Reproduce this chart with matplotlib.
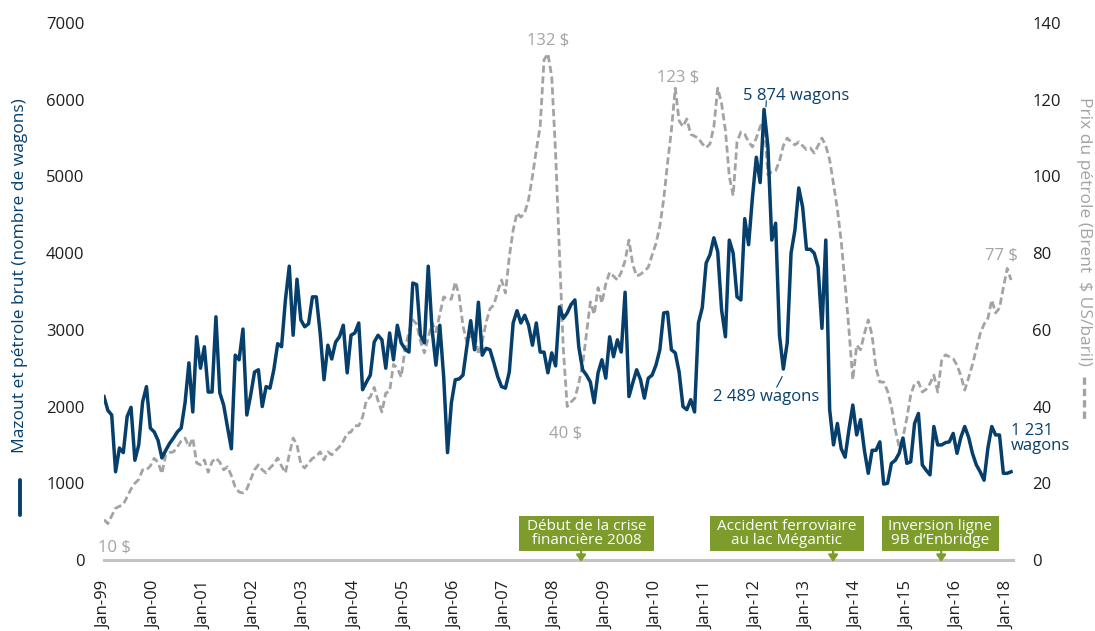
import matplotlib.pyplot as plt
from matplotlib.lines import Line2D
from matplotlib.patches import Rectangle

plt.rcParams['font.family'] = ['Open Sans', 'DejaVu Sans']

# 4-week periods, one tick label every 13 periods
tick_labels = ['Jan-99', 'Jan-00', 'Jan-01', 'Jan-02', 'Jan-03', 'Jan-04', 'Jan-05',
               'Jan-06', 'Jan-07', 'Jan-08', 'Jan-09', 'Jan-10', 'Jan-11', 'Jan-12',
               'Jan-13', 'Jan-14', 'Jan-15', 'Jan-16', 'Jan-18']

# rail cars of fuel oil and crude (number of cars)
wagons = [
    2130, 1950, 1890, 1150, 1460, 1400, 1870, 1990, 1300, 1500, 2060, 2260, 1720,
    1670, 1560, 1330, 1430, 1520, 1590, 1670, 1720, 2050, 2570, 1930, 2910, 2500,
    2780, 2190, 2190, 3170, 2180, 2020, 1730, 1450, 2670, 2610, 3010, 1890, 2150,
    2450, 2480, 2000, 2260, 2240, 2480, 2820, 2780, 3390, 3830, 2930, 3660, 3130,
    3040, 3080, 3430, 3430, 2960, 2350, 2800, 2620, 2840, 2910, 3060, 2440, 2930,
    2960, 3090, 2220, 2320, 2410, 2840, 2930, 2870, 2500, 2960, 2610, 3060, 2830,
    2750,
    2710, 3610, 3590, 2930, 2830, 3830, 3000, 2540, 3060, 2390, 1400, 2050, 2350,
    2360, 2410, 2780, 3120, 2740, 3360, 2670, 2760, 2740, 2570, 2390, 2260, 2240,
    2450, 3090, 3250, 3090, 3190, 3060, 2800, 3090, 2710, 2710, 2440, 2700, 2530,
    3300,
    3150, 3220, 3330, 3390, 2780, 2480, 2410, 2320, 2050, 2440, 2610, 2370, 2910,
    2650, 2870, 2710, 3490, 2130, 2310, 2480, 2350, 2110, 2370, 2410, 2540, 2740,
    3220, 3230, 2740,
    2700, 2450, 2000, 1960, 2090, 1930, 3090, 3290, 3870, 3980, 4200, 4020, 3260,
    2910, 4170, 4000, 3430, 3390, 4450, 4110, 4730, 5250, 4920, 5874, 5390, 4170,
    4390, 2930, 2489, 2830, 4000, 4300, 4850, 4600, 4050, 4050, 4000, 3820, 3020,
    4170,
    1960, 1500, 1780, 1450, 1340, 1700, 2020, 1630, 1830, 1430, 1130, 1430, 1430,
    1540, 990,
    1000, 1260, 1300, 1390, 1590, 1260, 1280, 1780, 1910, 1240, 1170, 1110, 1740,
    1500, 1500, 1530, 1540, 1650, 1390, 1600, 1740, 1600, 1390, 1240, 1150, 1040,
    1460, 1740, 1630, 1630, 1130, 1130, 1150,
]

# Brent price, $ US per barrel
brent = [
    10.5, 9.5, 11.5, 13.5, 14, 14.5, 16.5, 18.5, 20, 21, 23.5, 23.5,
    24.5, 26.5, 25.5, 22.5, 27.5, 28, 28.2, 29.5, 31, 31.8, 29.5, 31.8,
    25.3, 24.8, 26.1, 22.9, 25.6, 26.6, 25.5, 23.5, 24.3, 22, 19, 17.7,
    17.5, 18.5, 21, 23.5, 24.8, 23.5, 22.7, 24, 25, 26.6, 24.5, 22.7,
    27.5, 31.8, 30, 25, 24, 25.3, 26.5, 27, 28.2, 26.1, 28.2, 27.4,
    28.5, 29.5, 31, 33, 33.4, 35, 35, 37.3, 41.7, 42.5, 45, 41.5,
    38.6, 43.5, 44, 51, 50, 47.7, 55, 59.5, 62.6, 61.5, 57, 54,
    58, 61.8, 59.5, 64, 68.6, 68, 68, 72.5, 69, 61, 56.8, 58,
    59.5, 53.5, 57, 62, 65.5, 66.5, 70, 73, 69.6, 79, 86, 90.5,
    89.4, 90.5, 94, 100, 106.9, 113, 130.4, 132, 126, 106, 80, 55,
    40, 41.2, 42.2, 46, 51, 59, 67.3, 64, 71, 67, 72, 75,
    74, 73, 75, 78, 83.4, 77, 74, 74.5, 75.3, 76.3, 79.5, 82.5,
    87, 94, 103.5, 112, 123, 114.5, 113, 115, 111, 110.5, 110, 108.5,
    107.5, 108.5, 113, 123, 119, 112, 100, 95, 109, 111.6, 111, 109,
    107.7, 110, 113, 114.7, 100.4, 101.2, 101.5, 104, 108, 110, 109, 108.2,
    109, 108, 107, 107.4, 106.1, 108, 110, 108, 104.3, 98, 91.5, 83,
    72, 60, 47, 56, 54.8, 59, 62.6, 58.5, 50, 46.4, 46.4, 44,
    40, 34, 29.5, 32, 37, 43, 46, 46.4, 43.8, 44.5, 46, 48.2,
    43.8, 52, 53.5, 53, 52.5, 50.8, 48, 44.3, 47.5, 51, 55, 59,
    61.5, 63, 67.8, 64.4, 65.7, 71, 76, 73,
]

events = ['Début de la crise\nfinancière 2008',
          'Accident ferroviaire\nau lac Mégantic',
          'Inversion ligne\n9B d\u2019Enbridge']
event_period = [123.6, 188.9, 216.9]
# box spans along the period axis (left, right)
event_box = [(107.5, 142.5), (156.9, 196.8), (201.5, 231.8)]

BLUE = '#063F6B'
GREY = '#A3A3A5'
GREEN = '#7E9C2C'
W, H = 1095, 631

fig = plt.figure(figsize=(W / 100, H / 100), dpi=100)
ax = fig.add_axes([104 / W, 1 - 560 / H, (1013 - 104) / W, (560 - 23) / H])
ax2 = ax.twinx()

x = list(range(len(wagons)))
xo = list(range(len(brent)))
ax2.plot(xo, brent, color=GREY, lw=2.0, ls=(0, (2.6, 1.3)), zorder=2)
ax.plot(x, wagons, color=BLUE, lw=2.5, zorder=3)
ax.set_zorder(ax2.get_zorder() + 1)
ax.patch.set_visible(False)

ax.set_xlim(0, 235.5)
ax.set_ylim(0, 7000)
ax2.set_ylim(0, 140)
ax.set_yticks(range(0, 7001, 1000))
ax2.set_yticks(range(0, 141, 20))
ax.set_xticks([13 * k for k in range(len(tick_labels))])
ax.set_xticklabels(tick_labels, rotation=90)

for a in (ax, ax2):
    for s in a.spines.values():
        s.set_visible(False)
    a.tick_params(length=0, labelsize=12, colors='#1E1E1E')
ax.tick_params(axis='y', pad=14)
ax2.tick_params(axis='y', pad=14)
ax.tick_params(axis='x', pad=15)
ax.axhline(0, color='#C3C3C3', lw=2.2, zorder=1, clip_on=False)

# axis titles with line keys
fig.text(20 / W, 1 - 276 / H, 'Mazout et pétrole brut (nombre de wagons)',
         rotation=90, ha='center', va='center', color=BLUE, fontsize=12.5)
fig.add_artist(Line2D([20 / W, 20 / W], [1 - 480 / H, 1 - 515 / H],
                      color=BLUE, lw=2.8, solid_capstyle='round'))
fig.text(1084 / W, 1 - 231 / H, 'Prix du pétrole (Brent  $ US/baril)',
         rotation=270, ha='center', va='center', color=GREY, fontsize=12.5)
fig.add_artist(Line2D([1084 / W, 1084 / W], [1 - 377 / H, 1 - 421 / H],
                      color=GREY, lw=2.4, ls=(0, (2.2, 1.2))))

# value labels
lab = dict(fontsize=12, ha='center', va='center')
ax2.text(115, 135.5, '132 $', color=GREY, **lab)
ax2.text(148.7, 125.7, '123 $', color=GREY, **lab)
ax2.text(119.7, 33.1, '40 $', color=GREY, **lab)
ax2.text(-1.5, 3.2, '10 $', color=GREY, fontsize=12, ha='left', va='center')
ax2.text(236.8, 79.3, '77 $', color=GREY, fontsize=12, ha='right', va='center')

ax.text(179.3, 6050, '5 874 wagons', color=BLUE, **lab)
ax.plot([171.6, 171.5], [5985, 5910], color=BLUE, lw=0.8)
ax.text(171.5, 2125, '2 489 wagons', color=BLUE, **lab)
ax.plot([174.3, 175.7], [2255, 2390], color=BLUE, lw=0.8)
ax.text(235, 1580, '1 231\nwagons', color=BLUE, fontsize=12, ha='left',
        va='center', linespacing=0.95)

# event boxes with arrows
for txt, p, (x0, x1) in zip(events, event_period, event_box):
    ax.add_patch(Rectangle((x0, 117), x1 - x0, 457, fc=GREEN, ec='none',
                           zorder=5, clip_on=False))
    ax.text((x0 + x1) / 2, 348, txt, ha='center', va='center', color='white',
            fontsize=11, linespacing=0.9, zorder=6)
    ax.annotate('', xy=(p, -25), xytext=(p, 117),
                arrowprops=dict(arrowstyle='-|>,head_width=0.28,head_length=0.4',
                                color=GREEN, lw=1.6, shrinkA=0, shrinkB=0),
                zorder=5, annotation_clip=False)

fig.savefig('out.png', dpi=100)
